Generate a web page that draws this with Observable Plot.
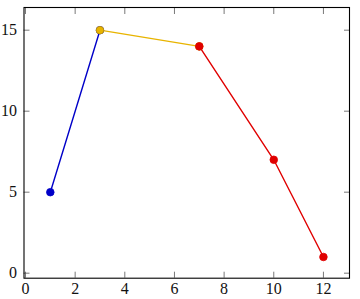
<!DOCTYPE html>
<html>
<head>
<meta charset="utf-8">
<script src="https://cdn.jsdelivr.net/npm/d3@7"></script>
<script src="https://cdn.jsdelivr.net/npm/@observablehq/plot@0.6"></script>
<style>
  html, body { margin: 0; padding: 0; background: #fff; }
  #chart svg { display: block; }
  #chart svg text { font-family: "Liberation Serif", serif !important; }
</style>
</head>
<body>
<div id="chart"></div>
<script>
// Data
const seriesNames = ["blue", "yellow", "red"];
const blueX = [1, 3];
const blueY = [5, 15];
const yellowX = [3, 7];
const yellowY = [15, 14];
const redX = [7, 10, 12];
const redY = [14, 7, 1];
const xTicks = [0, 2, 4, 6, 8, 10, 12];
const yTicks = [0, 5, 10, 15];

const colors = { blue: "#0000c8", yellow: "#e8b400", red: "#e00000" };
const toRows = (xs, ys, s) => xs.map((x, i) => ({ x, y: ys[i], s }));
const blueData = toRows(blueX, blueY, "blue");
const yellowData = toRows(yellowX, yellowY, "yellow");
const redData = toRows(redX, redY, "red");
const allLines = [blueData, yellowData, redData];

const font = "Liberation Serif";
const tickStroke = "#555";

const marks = [
  Plot.axisX(xTicks, { anchor: "bottom", tickSize: 0, tickPadding: 4, fontSize: 16, fontFamily: font, fill: "#111", label: null }),
  Plot.axisY(yTicks, { anchor: "left", tickSize: 0, tickPadding: 7, fontSize: 16, fontFamily: font, fill: "#111", label: null }),
  Plot.axisX(xTicks, { anchor: "bottom", tickSize: -6, tickFormat: () => "", stroke: tickStroke, strokeWidth: 0.8, label: null }),
  Plot.axisX(xTicks, { anchor: "top", tickSize: -6, tickFormat: () => "", stroke: tickStroke, strokeWidth: 0.8, label: null }),
  Plot.axisY(yTicks, { anchor: "left", tickSize: -6, tickFormat: () => "", stroke: tickStroke, strokeWidth: 0.8, label: null }),
  Plot.axisY(yTicks, { anchor: "right", tickSize: -6, tickFormat: () => "", stroke: tickStroke, strokeWidth: 0.8, label: null }),
  Plot.frame({ stroke: "#000", strokeWidth: 1.1 })
];
for (const d of allLines) {
  marks.push(Plot.line(d, { x: "x", y: "y", stroke: colors[d[0].s], strokeWidth: 1.4 }));
}
for (const d of allLines) {
  marks.push(Plot.dot(d, { x: "x", y: "y", r: 3.8, fill: colors[d[0].s], stroke: d[0].s === "yellow" ? "#c89a00" : colors[d[0].s], strokeWidth: 0.8 }));
}

const chart = Plot.plot({
  width: 360,
  height: 299,
  marginLeft: 23.5,
  marginRight: 11,
  marginTop: 7,
  marginBottom: 21.3,
  x: { domain: [-0.06, 13.05], axis: null },
  y: { domain: [-0.31, 16.4], axis: null },
  style: { background: "#fff" },
  marks
});
document.getElementById("chart").appendChild(chart);
</script>
</body>
</html>
